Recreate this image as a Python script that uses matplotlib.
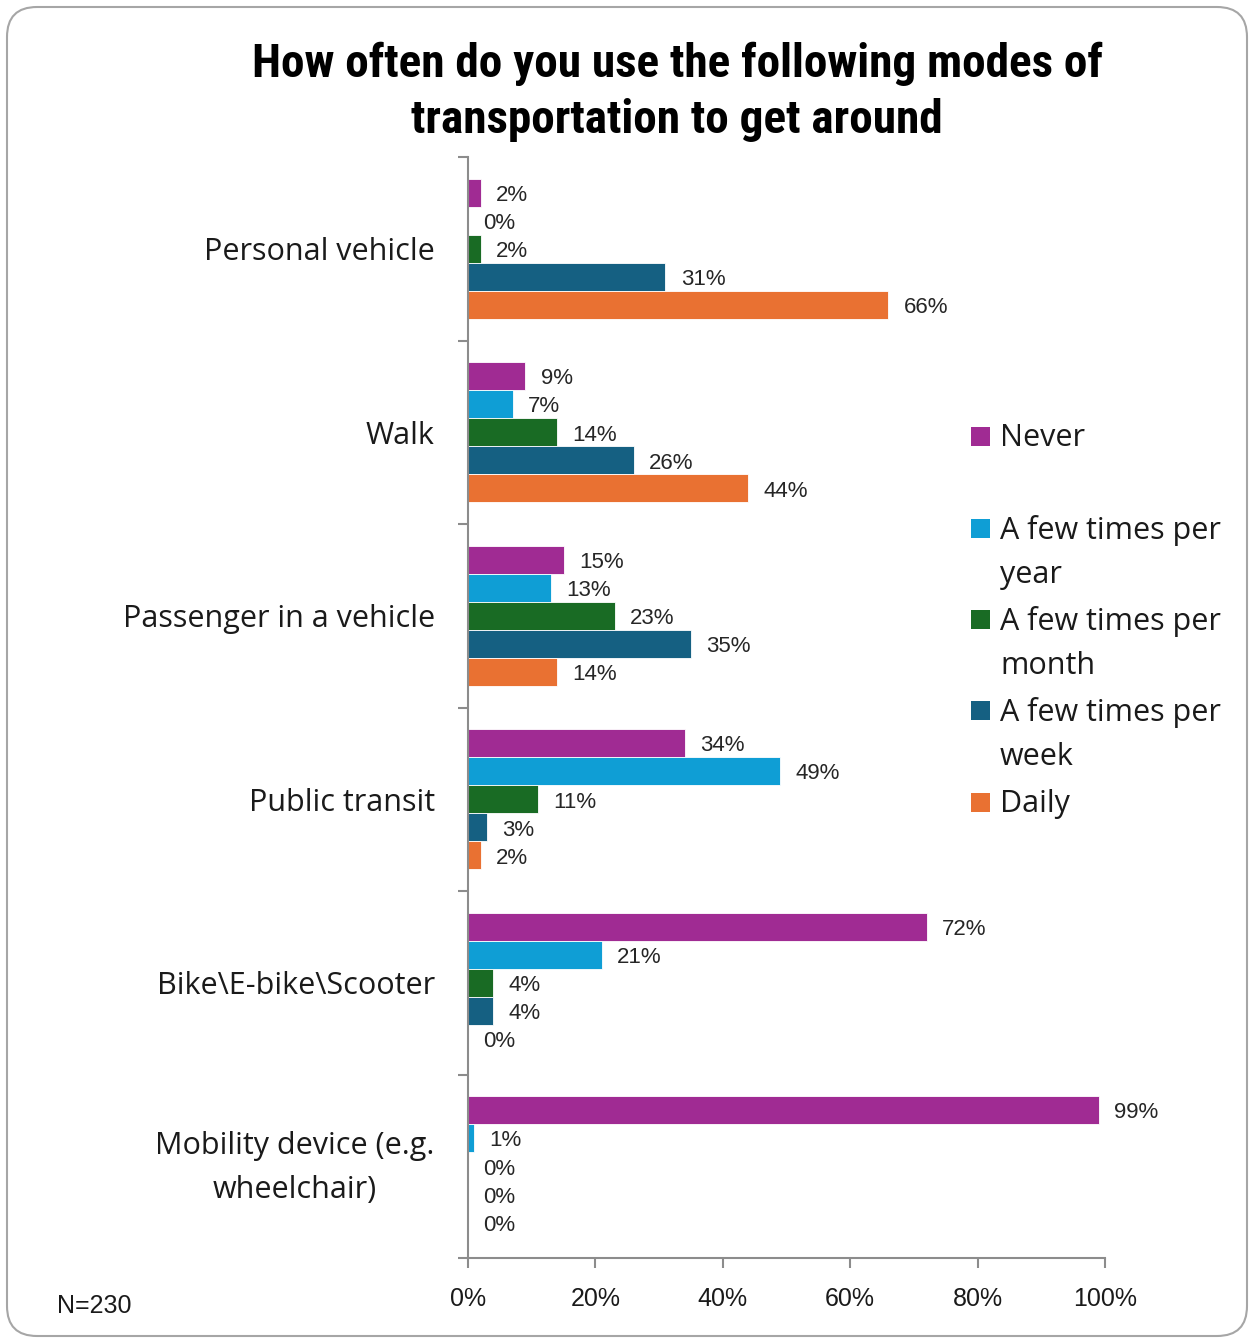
import matplotlib
matplotlib.use("Agg")
import matplotlib.pyplot as plt
from matplotlib.patches import FancyBboxPatch, Rectangle
from matplotlib.transforms import ScaledTranslation

# Survey data (percent of respondents)
modes = ["Personal vehicle", "Walk", "Passenger in a vehicle", "Public transit",
         "Bike\\E-bike\\Scooter", "Mobility device (e.g.\nwheelchair)"]
frequency = ["Never", "A few times per\nyear", "A few times per\nmonth",
             "A few times per\nweek", "Daily"]
never = [2, 9, 15, 34, 72, 99]
per_year = [0, 7, 13, 49, 21, 1]
per_month = [2, 14, 23, 11, 4, 0]
per_week = [31, 26, 35, 3, 4, 0]
daily = [66, 44, 14, 2, 0, 0]
x_ticks = [0, 20, 40, 60, 80, 100]
sample_note = "N=230"
title = "How often do you use the following modes of\ntransportation to get around"

colors = ["#A02B93", "#0F9ED5", "#196B24", "#156082", "#E97132"]
series = [never, per_year, per_month, per_week, daily]

label_font = ["Open Sans", "DejaVu Sans"]
num_font = ["Liberation Sans", "DejaVu Sans"]
title_font = ["Liberation Sans Narrow", "DejaVu Sans Condensed", "Roboto Condensed", "Roboto"]
axis_gray = "#8C8C8C"

fig = plt.figure(figsize=(12.49, 13.38), dpi=100)
ax = fig.add_axes([468 / 1249, 80 / 1338, 637 / 1249, 1101 / 1338])

bar_h = 0.153
n_series = len(series)
for j, (vals, col) in enumerate(zip(series, colors)):
    ys = [i - bar_h * n_series / 2 + (j + 0.5) * bar_h for i in range(len(modes))]
    ax.barh(ys, vals, height=bar_h, color=col, edgecolor="white", linewidth=0.6)
    for y, v in zip(ys, vals):
        ax.annotate(f"{v}%", xy=(v, y), xytext=(11, -2), textcoords="offset points",
                    va="center", ha="left", fontsize=16, color="#262626",
                    family=num_font)

ax.set_xlim(0, 100)
ax.set_ylim(len(modes) - 0.5, -0.5)

# category boundaries as major ticks, names on minor ticks
ax.set_yticks([i - 0.5 for i in range(len(modes) + 1)])
ax.set_yticklabels([])
ax.set_yticks(range(len(modes)), minor=True)
ax.set_yticklabels(modes, minor=True, fontsize=22, family=label_font,
                   color="#1a1a1a", multialignment="center")
ax.tick_params(axis="y", which="major", length=7, width=1.5, color=axis_gray, direction="out")
ax.tick_params(axis="y", which="minor", length=0, pad=24)
for lbl in ax.get_yticklabels(minor=True):
    lbl.set_linespacing(1.62)
    if "\n" in lbl.get_text():
        # two-line label: centre the block on its category
        lbl.set_transform(lbl.get_transform() + ScaledTranslation(0, 0.09, fig.dpi_scale_trans))

ax.set_xticks(x_ticks)
ax.set_xticklabels([f"{t}%" for t in x_ticks], fontsize=18, family=num_font, color="#1a1a1a")
ax.tick_params(axis="x", length=7, width=1.5, color=axis_gray, direction="out", pad=14)

for s in ["top", "right"]:
    ax.spines[s].set_visible(False)
for s in ["left", "bottom"]:
    ax.spines[s].set_color(axis_gray)
    ax.spines[s].set_linewidth(1.5)

# title
fig.text(677 / 1249, 1 - 92 / 1338, title, ha="center", va="center", fontsize=34,
         fontweight="bold", family=title_font, linespacing=1.33, color="black")

# legend drawn as swatches with wrapped labels
leg_y = [436, 528, 619, 710, 802]
for col, lab, yp in zip(colors, frequency, leg_y):
    fig.patches.append(Rectangle((971 / 1249, 1 - (yp + 10) / 1338), 19 / 1249, 19 / 1338,
                                 transform=fig.transFigure, facecolor=col, edgecolor="none"))
    fig.text(1000 / 1249, 1 - (yp - 13) / 1338, lab, ha="left", va="top", fontsize=22,
             family=label_font, color="#1a1a1a", linespacing=1.62)

fig.text(57 / 1249, 1 - 1306 / 1338, sample_note, ha="left", va="center", fontsize=18,
         family=num_font, color="#1a1a1a")

# rounded chart frame
frame = FancyBboxPatch((0.07, 0.02), 12.40, 13.29, boxstyle="round,pad=0,rounding_size=0.3",
                       transform=fig.dpi_scale_trans, facecolor="none",
                       edgecolor="#A6A6A6", linewidth=1.5)
fig.patches.append(frame)

fig.savefig("out.png", dpi=100)
